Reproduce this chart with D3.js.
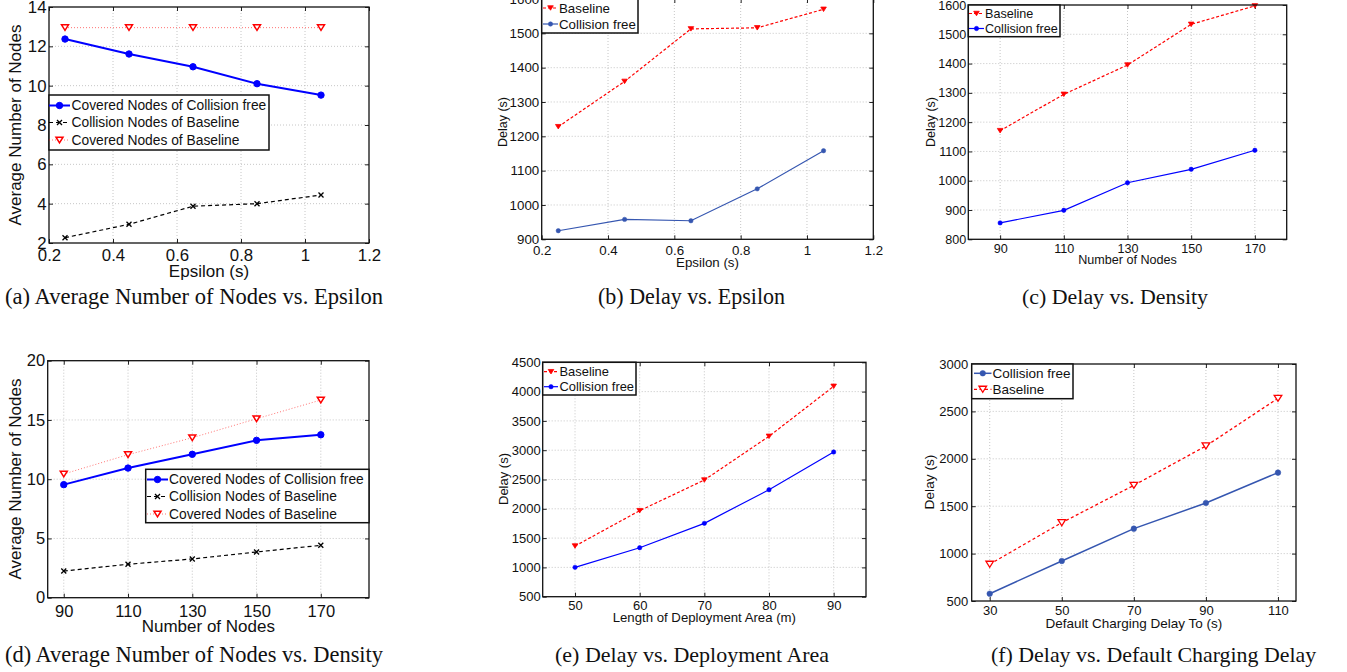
<!DOCTYPE html>
<html><head><meta charset="utf-8">
<script src="https://cdn.jsdelivr.net/npm/d3@7"></script>
<style>body{margin:0;background:#fff;}svg{display:block;}</style>
</head><body>
<script>
// ---------- data ----------
const epsilon = [0.25, 0.45, 0.65, 0.85, 1.05];
const nodeCounts = [90, 110, 130, 150, 170];
const areaLengths = [50, 60, 70, 80, 90];
const chargeDelays = [30, 50, 70, 90, 110];

const aCoveredCF = [12.37, 11.61, 10.96, 10.1, 9.52];
const aCollisionBL = [2.27, 2.95, 3.87, 4.0, 4.44];
const aCoveredBL = [12.95, 12.95, 12.95, 12.95, 12.95];

const bBaseline = [1228, 1360, 1513, 1516, 1570];
const bCollisionFree = [925, 958, 954, 1047, 1158];

const cBaseline = [1171, 1295, 1395, 1534, 1597];
const cCollisionFree = [856, 899, 993, 1039, 1104];

const dCoveredCF = [9.54, 10.94, 12.1, 13.28, 13.75];
const dCollisionBL = [2.25, 2.82, 3.27, 3.86, 4.42];
const dCoveredBL = [10.44, 12.07, 13.5, 15.1, 16.68];

const eBaseline = [1365, 1968, 2491, 3237, 4090];
const eCollisionFree = [1001, 1336, 1752, 2326, 2969];

const fCollisionFree = [577, 922, 1263, 1534, 1854];
const fBaseline = [887, 1326, 1720, 2135, 2638];

const ticksEps = [0.2, 0.4, 0.6, 0.8, 1, 1.2];
const ticksA_Y = [2, 4, 6, 8, 10, 12, 14];
const ticksB_Y = [900, 1000, 1100, 1200, 1300, 1400, 1500, 1600];
const ticksC_Y = [800, 900, 1000, 1100, 1200, 1300, 1400, 1500, 1600];
const ticksD_Y = [0, 5, 10, 15, 20];
const ticksE_X = [50, 60, 70, 80, 90];
const ticksE_Y = [500, 1000, 1500, 2000, 2500, 3000, 3500, 4000, 4500];
const ticksF_Y = [500, 1000, 1500, 2000, 2500, 3000];

const SANS = "'Liberation Sans', Arial, Helvetica, sans-serif";
const SERIF = "'Liberation Serif', 'Times New Roman', serif";
const BLUE = "#0000ff", STEEL = "#3556b0", RED = "#ff0000";

const svg = d3.select("body").append("svg").attr("width", 1347).attr("height", 672);

const probe = svg.append("text").attr("font-family", SERIF).attr("font-size", 20)
  .text("(a) Average Number of Nodes vs. Epsilon");
const CAP_FS = 20 * 378 / probe.node().getComputedTextLength();
probe.remove();

function markerPath(type, s) {
  if (type === "circle") return d3.symbol(d3.symbolCircle, Math.PI * s * s)();
  if (type === "tri") {
    const h = s * 1.6;
    return `M${-s},${-h/2}L${s},${-h/2}L0,${h/2}Z`;
  }
  if (type === "x") return `M${-s},${-s}L${s},${s}M${-s},${s}L${s},${-s}`;
  return "";
}

function drawMarker(g, cx, cy, m) {
  g.append("path").attr("d", markerPath(m.type, m.size))
    .attr("transform", `translate(${cx},${cy})`)
    .attr("fill", m.fill).attr("stroke", m.stroke).attr("stroke-width", m.sw);
}

function panel(p) {
  const x = d3.scaleLinear().domain(p.xDomain).range([p.L, p.R]);
  const y = d3.scaleLinear().domain(p.yDomain).range([p.B, p.T]);
  const g = svg.append("g");

  g.selectAll(null).data(p.xTicks.filter(t => t > p.xDomain[0] && t < p.xDomain[1])).join("line")
    .attr("x1", d => x(d)).attr("x2", d => x(d)).attr("y1", p.T).attr("y2", p.B)
    .attr("stroke", "#b8b8b8").attr("stroke-width", 0.8).attr("stroke-dasharray", "1,2");
  g.selectAll(null).data(p.yTicks.filter(t => t > p.yDomain[0] && t < p.yDomain[1])).join("line")
    .attr("y1", d => y(d)).attr("y2", d => y(d)).attr("x1", p.L).attr("x2", p.R)
    .attr("stroke", "#b8b8b8").attr("stroke-width", 0.8).attr("stroke-dasharray", "1,2");

  const fmt = d3.format("~g");
  const ax = g.append("g").attr("transform", `translate(0,${p.B})`)
    .call(d3.axisBottom(x).tickValues(p.xTicks).tickSizeInner(-4).tickSizeOuter(0).tickPadding(p.xPad).tickFormat(fmt));
  const ay = g.append("g").attr("transform", `translate(${p.L},0)`)
    .call(d3.axisLeft(y).tickValues(p.yTicks).tickSizeInner(-4).tickSizeOuter(0).tickPadding(p.yPad).tickFormat(fmt));
  const at = g.append("g").attr("transform", `translate(0,${p.T})`)
    .call(d3.axisTop(x).tickValues(p.xTicks).tickSizeInner(-4).tickSizeOuter(0).tickFormat(""));
  const ar = g.append("g").attr("transform", `translate(${p.R},0)`)
    .call(d3.axisRight(y).tickValues(p.yTicks).tickSizeInner(-4).tickSizeOuter(0).tickFormat(""));
  [ax, ay, at, ar].forEach(a => {
    a.select(".domain").remove();
    a.selectAll("line").attr("stroke", "#222");
    a.selectAll("text").attr("font-family", SANS).attr("font-size", p.tickFs).attr("fill", "#111");
  });

  p.series.forEach(s => {
    const line = d3.line().x((d, i) => x(p.xs[i])).y(d => y(d));
    g.append("path").datum(s.values).attr("d", line).attr("fill", "none")
      .attr("stroke", s.color).attr("stroke-width", s.width)
      .attr("stroke-dasharray", s.dash || null).attr("stroke-opacity", s.opacity || 1);
    s.values.forEach((v, i) => drawMarker(g, x(p.xs[i]), y(v), s.marker));
  });

  g.append("rect").attr("x", p.L).attr("y", p.T).attr("width", p.R - p.L).attr("height", p.B - p.T)
    .attr("fill", "none").attr("stroke", "#111").attr("stroke-width", 1.3);

  const lg = p.legend;
  g.append("rect").attr("x", lg.x0).attr("y", lg.y0).attr("width", lg.x1 - lg.x0).attr("height", lg.y1 - lg.y0)
    .attr("fill", "#fff").attr("stroke", "#111").attr("stroke-width", 1.5);
  lg.order.forEach((si, k) => {
    const s = p.series[si];
    const ry = lg.rows[k];
    g.append("line").attr("x1", lg.lx0).attr("x2", lg.lx1).attr("y1", ry).attr("y2", ry)
      .attr("stroke", s.color).attr("stroke-width", s.width)
      .attr("stroke-dasharray", s.dash || null).attr("stroke-opacity", s.opacity || 1);
    drawMarker(g, (lg.lx0 + lg.lx1) / 2, ry, s.marker);
    g.append("text").attr("x", lg.tx).attr("y", ry).attr("dy", "0.36em")
      .attr("font-family", SANS).attr("font-size", lg.fs).attr("fill", "#111").text(s.name);
  });

  g.append("text").attr("x", (p.L + p.R) / 2).attr("y", p.xLabelY).attr("dy", "0.36em")
    .attr("text-anchor", "middle").attr("font-family", SANS).attr("font-size", p.labelFs).attr("fill", "#111")
    .text(p.xLabel);
  g.append("text").attr("transform", `translate(${p.yLabelX},${p.yLabelCY}) rotate(-90)`).attr("dy", "0.36em")
    .attr("text-anchor", "middle").attr("font-family", SANS).attr("font-size", p.yLabelFs || p.labelFs).attr("fill", "#111")
    .text(p.yLabel);

  const cap = g.append("text").attr("x", p.cap.x0).attr("y", p.cap.y)
    .attr("font-family", SERIF).attr("font-size", CAP_FS).attr("fill", "#111").text(p.cap.text);
  let nat = cap.node().getComputedTextLength();
  if (nat > p.cap.w) {
    cap.attr("font-size", CAP_FS * p.cap.w / nat);
  } else {
    const spaces = (p.cap.text.match(/ /g) || []).length;
    if (spaces > 0) cap.attr("word-spacing", (p.cap.w - nat) / spaces);
  }
}

panel({
  L: 49, R: 369, T: 7, B: 243, xDomain: [0.2, 1.2], yDomain: [2, 14],
  xTicks: ticksEps, yTicks: ticksA_Y, xs: epsilon, tickFs: 16.8, xPad: 6, yPad: 2.5,
  labelFs: 17, xLabel: "Epsilon (s)", xLabelY: 271, yLabel: "Average Number of Nodes", yLabelX: 15, yLabelCY: 125,
  series: [
    { name: "Covered Nodes of Collision free", values: aCoveredCF, color: BLUE, width: 2,
      marker: { type: "circle", size: 3.2, fill: BLUE, stroke: BLUE, sw: 1 } },
    { name: "Collision Nodes of Baseline", values: aCollisionBL, color: "#000", width: 1.2, dash: "4,3",
      marker: { type: "x", size: 2.5, fill: "none", stroke: "#000", sw: 1.3 } },
    { name: "Covered Nodes of Baseline", values: aCoveredBL, color: RED, width: 1, dash: "1,2", opacity: 0.55,
      marker: { type: "tri", size: 3.5, fill: "#fff", stroke: RED, sw: 1.5 } }
  ],
  legend: { x0: 49, x1: 269, y0: 95, y1: 150, rows: [105.5, 122.5, 140], order: [0, 1, 2], lx0: 49, lx1: 70, tx: 71.5, fs: 13.8 },
  cap: { text: "(a) Average Number of Nodes vs. Epsilon", x0: 5, y: 304, w: 378 }
});

panel({
  L: 541.7, R: 873.3, T: -1, B: 239.3, xDomain: [0.2, 1.2], yDomain: [900, 1600],
  xTicks: ticksEps, yTicks: ticksB_Y, xs: epsilon, tickFs: 13.3, xPad: 6, yPad: 2.5,
  labelFs: 13.3, yLabelFs: 12.5, xLabel: "Epsilon (s)", xLabelY: 262, yLabel: "Delay (s)", yLabelX: 502, yLabelCY: 122,
  series: [
    { name: "Baseline", values: bBaseline, color: RED, width: 1.2, dash: "3,2",
      marker: { type: "tri", size: 2.8, fill: RED, stroke: RED, sw: 0.8 } },
    { name: "Collision free", values: bCollisionFree, color: STEEL, width: 1.2,
      marker: { type: "circle", size: 2.2, fill: STEEL, stroke: STEEL, sw: 0.5 } }
  ],
  legend: { x0: 541.7, x1: 638, y0: -2, y1: 33, rows: [8, 24], order: [0, 1], lx0: 543, lx1: 558, tx: 559, fs: 13.3 },
  cap: { text: "(b) Delay vs. Epsilon", x0: 598, y: 304, w: 187 }
});

panel({
  L: 968.3, R: 1286.7, T: 5, B: 239.3, xDomain: [80, 180], yDomain: [800, 1600],
  xTicks: nodeCounts, yTicks: ticksC_Y, xs: nodeCounts, tickFs: 12.6, xPad: 5, yPad: 2,
  labelFs: 12.6, yLabelFs: 12.5, xLabel: "Number of Nodes", xLabelY: 259, yLabel: "Delay (s)", yLabelX: 930, yLabelCY: 122,
  series: [
    { name: "Baseline", values: cBaseline, color: RED, width: 1.2, dash: "3,2",
      marker: { type: "tri", size: 2.8, fill: RED, stroke: RED, sw: 0.8 } },
    { name: "Collision free", values: cCollisionFree, color: BLUE, width: 1.2,
      marker: { type: "circle", size: 2.2, fill: BLUE, stroke: BLUE, sw: 0.5 } }
  ],
  legend: { x0: 968.3, x1: 1060, y0: 5, y1: 36.7, rows: [13.5, 28.5], order: [0, 1], lx0: 969, lx1: 984, tx: 985, fs: 12.6 },
  cap: { text: "(c) Delay vs. Density", x0: 1022, y: 304, w: 186 }
});

panel({
  L: 47.7, R: 369, T: 360.7, B: 597.7, xDomain: [85, 185], yDomain: [0, 20],
  xTicks: nodeCounts, yTicks: ticksD_Y, xs: nodeCounts, tickFs: 16.5, xPad: 8, yPad: 2.5,
  labelFs: 17, xLabel: "Number of Nodes", xLabelY: 626, yLabel: "Average Number of Nodes", yLabelX: 15, yLabelCY: 479,
  series: [
    { name: "Covered Nodes of Collision free", values: dCoveredCF, color: BLUE, width: 2,
      marker: { type: "circle", size: 3.2, fill: BLUE, stroke: BLUE, sw: 1 } },
    { name: "Collision Nodes of Baseline", values: dCollisionBL, color: "#000", width: 1.2, dash: "4,3",
      marker: { type: "x", size: 2.5, fill: "none", stroke: "#000", sw: 1.3 } },
    { name: "Covered Nodes of Baseline", values: dCoveredBL, color: RED, width: 1, dash: "1,2", opacity: 0.55,
      marker: { type: "tri", size: 3.5, fill: "#fff", stroke: RED, sw: 1.5 } }
  ],
  legend: { x0: 145.7, x1: 369, y0: 469.3, y1: 522.7, rows: [479.5, 496.5, 514], order: [0, 1, 2], lx0: 147, lx1: 168, tx: 169, fs: 13.8 },
  cap: { text: "(d) Average Number of Nodes vs. Density", x0: 5, y: 662, w: 378 }
});

panel({
  L: 542.7, R: 866, T: 362.3, B: 596.7, xDomain: [45, 95], yDomain: [500, 4500],
  xTicks: ticksE_X, yTicks: ticksE_Y, xs: areaLengths, tickFs: 13, xPad: 4.5, yPad: 2,
  labelFs: 13.2, yLabelFs: 13, xLabel: "Length of Deployment Area (m)", xLabelY: 617.5, yLabel: "Delay (s)", yLabelX: 503, yLabelCY: 479,
  series: [
    { name: "Baseline", values: eBaseline, color: RED, width: 1.2, dash: "3,2",
      marker: { type: "tri", size: 2.8, fill: RED, stroke: RED, sw: 0.8 } },
    { name: "Collision free", values: eCollisionFree, color: BLUE, width: 1.2,
      marker: { type: "circle", size: 2.2, fill: BLUE, stroke: BLUE, sw: 0.5 } }
  ],
  legend: { x0: 542.7, x1: 636, y0: 362.3, y1: 395, rows: [371.7, 386.7], order: [0, 1], lx0: 544, lx1: 558, tx: 559.5, fs: 12.9 },
  cap: { text: "(e) Delay vs. Deployment Area", x0: 555, y: 662, w: 274 }
});

panel({
  L: 971.7, R: 1296, T: 364, B: 601, xDomain: [25, 115], yDomain: [500, 3000],
  xTicks: chargeDelays, yTicks: ticksF_Y, xs: chargeDelays, tickFs: 13, xPad: 4.5, yPad: 3.5,
  labelFs: 13.5, yLabelFs: 13.7, xLabel: "Default Charging Delay To (s)", xLabelY: 623.5, yLabel: "Delay (s)", yLabelX: 929.5, yLabelCY: 482,
  series: [
    { name: "Collision free", values: fCollisionFree, color: STEEL, width: 1.5,
      marker: { type: "circle", size: 2.8, fill: STEEL, stroke: STEEL, sw: 0.5 } },
    { name: "Baseline", values: fBaseline, color: RED, width: 1.3, dash: "3,2.5",
      marker: { type: "tri", size: 3.8, fill: "#fff", stroke: RED, sw: 1.3 } }
  ],
  legend: { x0: 971.7, x1: 1073, y0: 364, y1: 398.7, rows: [373.3, 389.3], order: [0, 1], lx0: 974, lx1: 991.5, tx: 992.5, fs: 13.5 },
  cap: { text: "(f) Delay vs. Default Charging Delay", x0: 991, y: 662, w: 325 }
});
</script>
</body></html>
